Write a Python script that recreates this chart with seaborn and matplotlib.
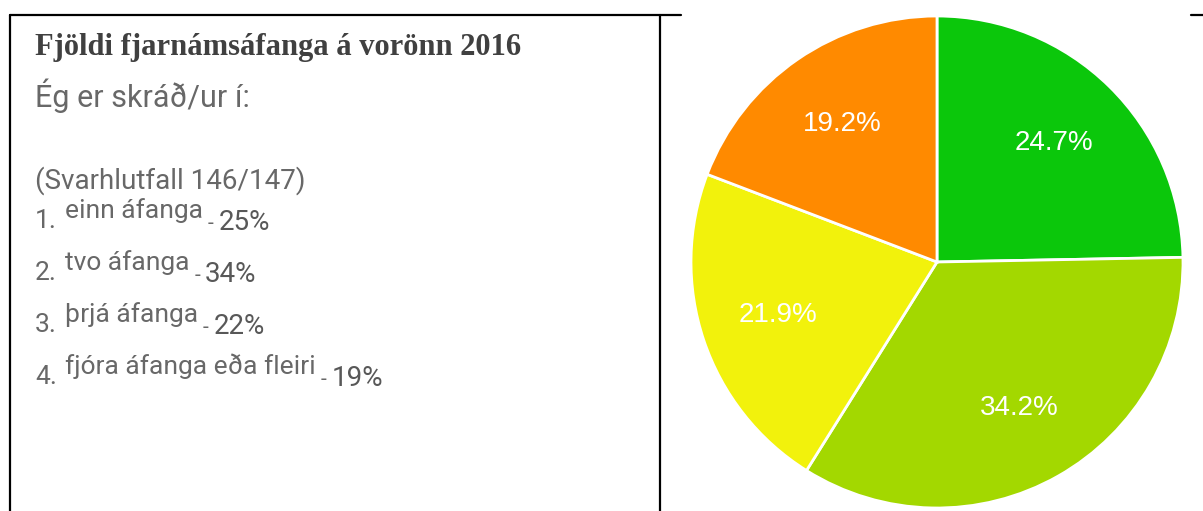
import matplotlib
matplotlib.use("Agg")
import matplotlib.pyplot as plt
import seaborn as sns
from matplotlib.lines import Line2D

# Gögn
flokkar = ["einn áfanga", "tvo áfanga", "þrjá áfanga", "fjóra áfanga eða fleiri"]
hlutfall = [24.7, 34.2, 21.9, 19.2]
hlutfall_namundad = [25, 34, 22, 19]
litir = ["#0bc70b", "#a3d800", "#f2f20c", "#ff8a00"]

titill = "Fjöldi fjarnámsáfanga á vorönn 2016"
spurning = "Ég er skráð/ur í:"
svarhlutfall = "(Svarhlutfall 146/147)"

sns.set_theme(style="white")
plt.rcParams["font.family"] = ["Roboto", "DejaVu Sans"]

W, H = 1203, 511
fig = plt.figure(figsize=(W / 100, H / 100), dpi=100)
fig.patch.set_facecolor("white")


def px(x, y):
    return x / W, 1 - y / H


# ramminn (tafla)
for xs, ys in [((10, 681), (15, 15)), ((1191, 1203), (15, 15)),
               ((10, 10), (15, 511)), ((660, 660), (15, 511))]:
    fig.add_artist(Line2D([x / W for x in xs], [1 - y / H for y in ys],
                          color="black", lw=1.6, transform=fig.transFigure))

# texti vinstra megin
grar = "#686868"
fig.text(*px(35, 47), titill, family="Liberation Serif", weight="bold",
         fontsize=22, color="#404040", va="center")
fig.text(*px(35, 96), spurning, fontsize=22, color=grar, va="center")
fig.text(*px(35, 181), svarhlutfall, fontsize=20, color=grar, va="center")

renderer = fig.canvas.get_renderer()
y0 = 228
for i, (nafn, p) in enumerate(zip(flokkar, hlutfall_namundad)):
    y = y0 + i * 52
    t1 = fig.text(*px(35, y), f"{i + 1}.", fontsize=19, color=grar, va="baseline")
    x = t1.get_window_extent(renderer).x1 + 8
    t2 = fig.text(x / W, 1 - (y - 10) / H, nafn, fontsize=19, color=grar, va="baseline")
    x = t2.get_window_extent(renderer).x1 + 5
    t3 = fig.text(x / W, 1 - (y + 1) / H, "-", fontsize=15, color=grar, va="baseline")
    x = t3.get_window_extent(renderer).x1 + 5
    fig.text(x / W, 1 - (y + 2) / H, f"{p}%", fontsize=20, color="#585858", va="baseline")

# skífuritið
cx, cy, r = 937, 262, 246
ax = fig.add_axes([(cx - r) / W, 1 - (cy + r) / H, 2 * r / W, 2 * r / H])
ax.pie(hlutfall, colors=litir, startangle=90, counterclock=False,
       autopct="%.1f%%", pctdistance=0.68,
       wedgeprops=dict(edgecolor="white", linewidth=2),
       textprops=dict(color="white", fontsize=20, family="Liberation Sans"))
ax.set_xlim(-1, 1)
ax.set_ylim(-1, 1)
ax.set_aspect("equal")
ax.axis("off")
for w in ax.patches:
    w.set_clip_on(False)

fig.savefig("out.png", dpi=100, facecolor="white")
